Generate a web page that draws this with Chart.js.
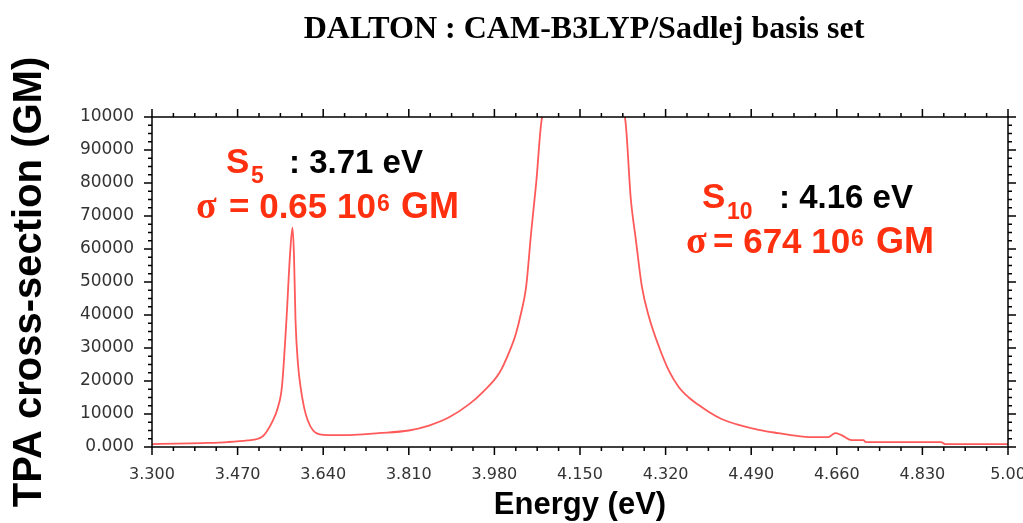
<!DOCTYPE html>
<html>
<head>
<meta charset="utf-8">
<script src="https://cdn.jsdelivr.net/npm/chart.js@4.4.1/dist/chart.umd.min.js"></script>
<style>
  html, body { margin: 0; padding: 0; background: #fff; }
  #wrap { width: 1023px; height: 523px; }
</style>
</head>
<body>
<div id="wrap"><canvas id="tpa"></canvas></div>
<script>
// spectrum (energy in eV, TPA in GM)
const energy = [3.30, 3.35, 3.40, 3.45, 3.49, 3.518, 3.540, 3.550, 3.558, 3.567, 3.574, 3.579,
  3.582, 3.585, 3.590, 3.595, 3.602, 3.609, 3.620, 3.633, 3.65, 3.70, 3.75, 3.81, 3.85, 3.89,
  3.93, 3.956, 3.99, 4.01, 4.023, 4.033, 4.043, 4.053, 4.063, 4.075, 4.09, 4.157, 4.225, 4.239,
  4.251, 4.261, 4.273, 4.287, 4.307, 4.326, 4.346, 4.366, 4.386, 4.406, 4.431, 4.465, 4.505,
  4.544, 4.584, 4.604, 4.643, 4.657, 4.669, 4.689, 4.713, 4.717, 4.782, 4.867, 4.875, 5.00];
const tpa = [900, 1000, 1200, 1500, 2000, 3000, 8000, 12000, 18200, 38500, 58000, 66500,
  58000, 38500, 25000, 18200, 12000, 8200, 5000, 3800, 3600, 3700, 4200, 5000, 6500, 9000,
  13000, 16500, 22500, 29000, 34500, 40600, 48500, 65000, 80000, 100000, 160000, 674000000, 160000, 100000,
  75000, 62700, 48500, 39400, 30300, 23300, 18200, 15000, 12700, 10600, 8500, 6700, 5200,
  4200, 3300, 3000, 3000, 4200, 3600, 2100, 2100, 1500, 1500, 1500, 900, 900];

const xTicks = [3.30, 3.47, 3.64, 3.81, 3.98, 4.15, 4.32, 4.49, 4.66, 4.83, 5.00];
const xTickLabels = ["3.300", "3.470", "3.640", "3.810", "3.980", "4.150", "4.320", "4.490", "4.660", "4.830", "5.00"];
const yTicks = [0, 10000, 20000, 30000, 40000, 50000, 60000, 70000, 80000, 90000, 100000];
const yTickLabels = ["0.000", "10000", "20000", "30000", "40000", "50000", "60000", "70000", "80000", "90000", "10000"];

const RED = "#ff3010";

// box with outward ticks on all four sides, title and the two state labels
const framePlugin = {
  id: "frame",
  afterDraw(chart) {
    const { ctx, chartArea: a } = chart;
    const xs = chart.scales.x, ys = chart.scales.y;
    ctx.save();
    ctx.strokeStyle = "#000";
    ctx.lineWidth = 1.5;
    ctx.strokeRect(a.left, a.top, a.right - a.left, a.bottom - a.top);

    ctx.beginPath();
    const xStep = (xTicks[1] - xTicks[0]) / 4;
    for (let i = 0; i < xTicks.length; i++) {
      for (let k = 0; k < 4; k++) {
        if (i === xTicks.length - 1 && k > 0) break;
        const px = xs.getPixelForValue(xTicks[i] + k * xStep);
        const len = k === 0 ? 8 : 4;
        ctx.moveTo(px, a.bottom); ctx.lineTo(px, a.bottom + len);
        ctx.moveTo(px, a.top); ctx.lineTo(px, a.top - len);
      }
    }
    const yStep = (yTicks[1] - yTicks[0]) / 4;
    for (let i = 0; i < yTicks.length; i++) {
      for (let k = 0; k < 4; k++) {
        if (i === yTicks.length - 1 && k > 0) break;
        const py = ys.getPixelForValue(yTicks[i] + k * yStep);
        const len = k === 0 ? 8 : 4;
        ctx.moveTo(a.left, py); ctx.lineTo(a.left - len, py);
        ctx.moveTo(a.right, py); ctx.lineTo(a.right + len, py);
      }
    }
    ctx.stroke();

    // title
    ctx.fillStyle = "#000";
    ctx.textAlign = "center";
    ctx.textBaseline = "alphabetic";
    ctx.font = "bold 32px 'Liberation Serif'";
    ctx.fillText("DALTON : CAM-B3LYP/Sadlej basis set", 584, 38);

    // state labels
    ctx.textAlign = "left";
    const put = (txt, x, y, size, color, fam) => {
      ctx.font = "bold " + size + "px " + (fam || "'Liberation Sans'");
      ctx.fillStyle = color;
      ctx.fillText(txt, x, y);
    };
    put("S", 226, 173, 35, RED);
    put("5", 251, 183, 23, RED);
    put(": 3.71 eV", 289, 173, 33, "#000");
    put("\u03c3", 196, 218, 38, RED, "'Liberation Serif'");
    put("= 0.65 10", 229, 218, 35, RED);
    put("6", 377, 211, 23, RED);
    put("GM", 401, 218, 36, RED);

    put("S", 702, 208, 35, RED);
    put("10", 727, 219, 23, RED);
    put(": 4.16 eV", 779, 208, 33, "#000");
    put("\u03c3", 686, 253, 38, RED, "'Liberation Serif'");
    put("= 674 10", 713, 253, 35, RED);
    put("6", 851, 246, 23, RED);
    put("GM", 876, 253, 36, RED);
    ctx.restore();
  }
};

new Chart(document.getElementById("tpa"), {
  type: "line",
  data: {
    datasets: [{
      data: energy.map((e, i) => ({ x: e, y: tpa[i] })),
      borderColor: "rgba(255, 60, 60, 0.85)",
      borderWidth: 1.8,
      pointRadius: 0,
      cubicInterpolationMode: "monotone",
      fill: false
    }]
  },
  options: {
    responsive: true,
    maintainAspectRatio: false,
    animation: false,
    layout: { padding: { top: 117, right: 15, left: 0, bottom: 0 } },
    plugins: { legend: { display: false }, tooltip: { enabled: false } },
    scales: {
      x: {
        type: "linear",
        min: 3.3,
        max: 5.0,
        afterBuildTicks: s => { s.ticks = xTicks.map(v => ({ value: v })); },
        afterFit: s => { s.height = 76; s.paddingLeft = 0; s.paddingRight = 0; },
        grid: { display: false },
        border: { display: false },
        ticks: {
          padding: 10,
          color: "#333",
          font: { family: "'DejaVu Sans'", size: 16 },
          maxRotation: 0,
          callback: (v, i) => xTickLabels[i]
        },
        title: {
          display: true,
          text: "Energy (eV)",
          color: "#000",
          font: { family: "'Liberation Sans'", size: 31, weight: "bold", lineHeight: 1.0 },
          padding: { top: 0, bottom: 2 }
        }
      },
      y: {
        min: 0,
        max: 100000,
        afterBuildTicks: s => { s.ticks = yTicks.map(v => ({ value: v })); },
        afterFit: s => { s.width = 152; s.paddingTop = 0; s.paddingBottom = 0; },
        grid: { display: false },
        border: { display: false },
        ticks: {
          padding: 10,
          color: "#333",
          font: { family: "'DejaVu Sans'", size: 17 },
          callback: (v, i) => yTickLabels[i]
        },
        title: {
          display: true,
          text: "TPA cross-section (GM)",
          color: "#000",
          font: { family: "'Liberation Sans'", size: 40, weight: "bold" },
          padding: { top: 6, bottom: 0 }
        }
      }
    }
  },
  plugins: [framePlugin]
});
</script>
</body>
</html>
